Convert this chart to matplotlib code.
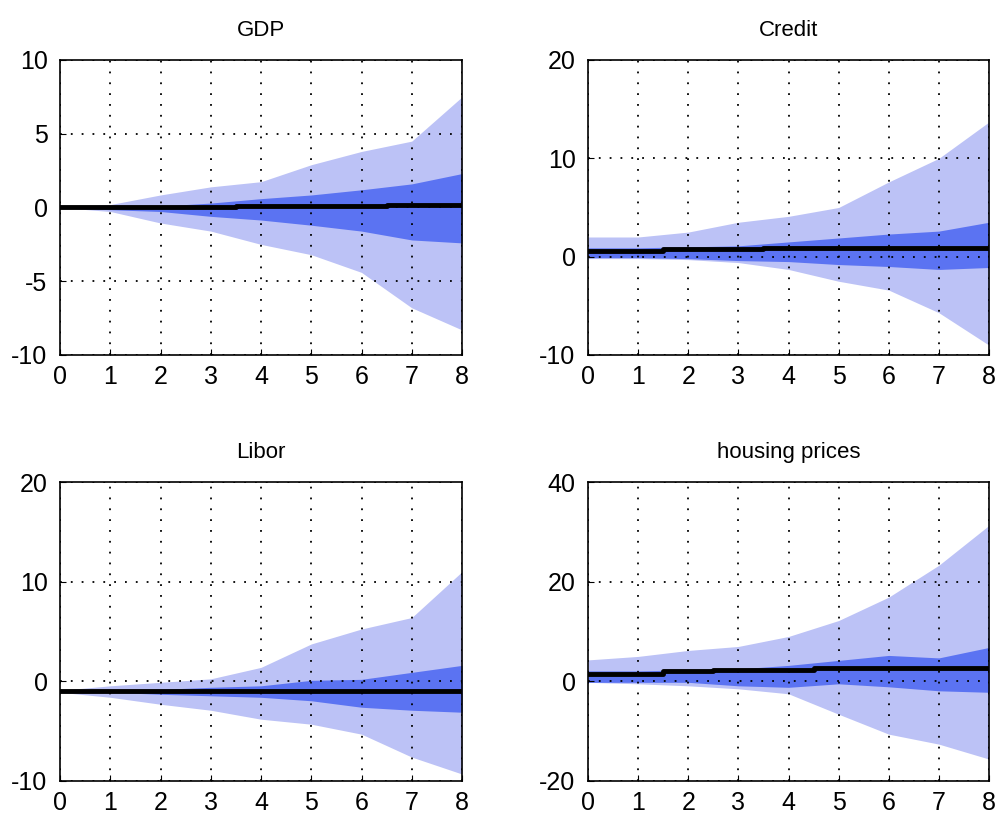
import matplotlib.pyplot as plt
import numpy as np

plt.rcParams['font.family'] = ['Liberation Sans', 'DejaVu Sans']
plt.rcParams['axes.unicode_minus'] = False

horizon = [0, 1, 2, 3, 4, 5, 6, 7, 8]
titles = ['GDP', 'Credit', 'Libor', 'housing prices']

gdp_med = [0.0, 0.0, 0.0, 0.05, 0.1, 0.1, 0.1, 0.15, 0.2]
gdp_in_lo = [0.0, -0.15, -0.27, -0.6, -0.85, -1.2, -1.6, -2.2, -2.4]
gdp_in_hi = [0.0, 0.1, 0.1, 0.3, 0.6, 0.85, 1.2, 1.6, 2.3]
gdp_out_lo = [0.0, -0.27, -1.05, -1.6, -2.5, -3.2, -4.4, -6.8, -8.3]
gdp_out_hi = [0.0, 0.2, 0.85, 1.4, 1.75, 2.9, 3.8, 4.5, 7.5]

credit_med = [0.6, 0.6, 0.8, 0.8, 0.9, 0.9, 0.9, 0.9, 0.9]
credit_in_lo = [-0.1, -0.1, -0.2, -0.4, -0.5, -0.8, -1.0, -1.3, -1.1]
credit_in_hi = [0.9, 0.9, 1.0, 1.1, 1.5, 1.9, 2.3, 2.6, 3.5]
credit_out_lo = [-0.2, -0.2, -0.3, -0.6, -1.3, -2.5, -3.4, -5.7, -9.0]
credit_out_hi = [2.0, 2.0, 2.5, 3.5, 4.1, 5.0, 7.6, 10.0, 13.7]

libor_med = [-1.0, -1.0, -1.0, -1.0, -1.0, -1.0, -1.0, -1.0, -1.0]
libor_in_lo = [-1.0, -1.1, -1.3, -1.45, -1.6, -1.95, -2.6, -2.9, -3.1]
libor_in_hi = [-1.0, -0.9, -0.8, -0.6, -0.45, 0.1, 0.2, 0.9, 1.6]
libor_out_lo = [-1.1, -1.6, -2.3, -2.9, -3.8, -4.3, -5.3, -7.6, -9.3]
libor_out_hi = [-0.9, -0.45, -0.1, 0.25, 1.4, 3.75, 5.25, 6.4, 11.0]

house_med = [1.5, 1.5, 2.1, 2.3, 2.3, 2.7, 2.7, 2.7, 2.7]
house_in_lo = [-0.2, -0.2, -0.2, -0.9, -1.2, -0.5, -1.1, -1.9, -2.2]
house_in_hi = [2.1, 2.1, 2.3, 2.5, 3.2, 4.2, 5.2, 4.7, 6.8]
house_out_lo = [-0.2, -0.5, -0.9, -1.5, -2.5, -6.6, -10.6, -12.6, -15.6]
house_out_hi = [4.3, 5.0, 6.2, 7.0, 9.0, 12.2, 16.9, 23.3, 31.3]

series = [
    (gdp_med, gdp_in_lo, gdp_in_hi, gdp_out_lo, gdp_out_hi),
    (credit_med, credit_in_lo, credit_in_hi, credit_out_lo, credit_out_hi),
    (libor_med, libor_in_lo, libor_in_hi, libor_out_lo, libor_out_hi),
    (house_med, house_in_lo, house_in_hi, house_out_lo, house_out_hi),
]
ylims = [(-10, 10), (-10, 20), (-10, 20), (-20, 40)]
yticks = [[-10, -5, 0, 5, 10], [-10, 0, 10, 20], [-10, 0, 10, 20], [-20, 0, 20, 40]]

fig = plt.figure(figsize=(9.97, 8.15), dpi=100)
W, H = 997, 815
boxes = [(60, 60, 462, 355), (588, 60, 989, 355), (60, 482, 462, 781), (588, 482, 989, 781)]

for i, (l, t, r, b) in enumerate(boxes):
    ax = fig.add_axes([l / W, 1 - b / H, (r - l) / W, (b - t) / H])
    med, in_lo, in_hi, out_lo, out_hi = series[i]
    ax.fill_between(horizon, out_lo, out_hi, color='#bcc2f6', linewidth=0)
    ax.fill_between(horizon, in_lo, in_hi, color='#5b73f2', linewidth=0)
    ax.plot(horizon, med, color='black', linewidth=3.5, drawstyle='steps-mid')
    ax.set_xlim(0, 8)
    ax.set_ylim(*ylims[i])
    ax.set_xticks(range(9))
    ax.set_yticks(yticks[i])
    ax.set_axisbelow(False)
    ax.grid(True, color='black', linestyle=(0, (1, 5)), linewidth=1.3)
    ax.tick_params(direction='in', length=4, labelsize=18)
    ax.tick_params(axis='x', pad=7)
    ax.tick_params(axis='y', pad=9)
    for s in ax.spines.values():
        s.set_linewidth(1.2)
    ax.set_title(titles[i], fontsize=16, pad=17)

fig.savefig('out.png', dpi=100)
